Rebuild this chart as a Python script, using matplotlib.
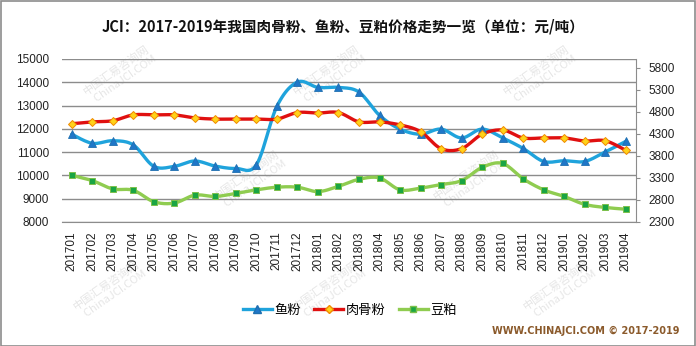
import numpy as np
import matplotlib
matplotlib.use("Agg")
import matplotlib.pyplot as plt
from matplotlib.lines import Line2D
from matplotlib.patches import Rectangle

plt.rcParams['font.family'] = ['Noto Sans CJK SC', 'DejaVu Sans']

months = ['201701', '201702', '201703', '201704', '201705', '201706', '201707',
          '201708', '201709', '201710', '201711', '201712', '201801', '201802',
          '201803', '201804', '201805', '201806', '201807', '201808', '201809',
          '201810', '201811', '201812', '201901', '201902', '201903', '201904']

fish_meal = [11770, 11380, 11490, 11310, 10390, 10390, 10620, 10400, 10300, 10460,
             12970, 14010, 13780, 13780, 13580, 12580, 11990, 11770, 11990, 11610,
             11990, 11610, 11160, 10600, 10630, 10600, 11010, 11460]

meat_bone_meal = [12220, 12300, 12350, 12600, 12600, 12600, 12470, 12420, 12420, 12420,
                  12420, 12700, 12680, 12700, 12300, 12300, 12170, 11880, 11150, 11150,
                  11770, 11950, 11610, 11610, 11610, 11480, 11490, 11080]

soybean_meal = [3360, 3240, 3050, 3020, 2760, 2730, 2910, 2880, 2950, 3030,
                3090, 3090, 2990, 3110, 3270, 3300, 3030, 3070, 3150, 3240,
                3540, 3630, 3280, 3030, 2880, 2700, 2630, 2590]

left_ticks = [8000, 9000, 10000, 11000, 12000, 13000, 14000, 15000]
right_ticks = [2300, 2800, 3300, 3800, 4300, 4800, 5300, 5800]

title = 'JCI：2017-2019年我国肉骨粉、鱼粉、豆粕价格走势一览（单位：元/吨）'
footer = 'WWW.CHINAJCI.COM © 2017-2019'


def smooth(xs, ys, n=12):
    """Catmull-Rom style smoothing (like Excel smoothed lines)."""
    xs = np.asarray(xs, float)
    ys = np.asarray(ys, float)
    px = np.concatenate([[xs[0]], xs, [xs[-1]]])
    py = np.concatenate([[ys[0]], ys, [ys[-1]]])
    ox, oy = [], []
    t = np.linspace(0, 1, n, endpoint=False)
    for i in range(1, len(px) - 2):
        p0x, p1x, p2x, p3x = px[i - 1], px[i], px[i + 1], px[i + 2]
        p0y, p1y, p2y, p3y = py[i - 1], py[i], py[i + 1], py[i + 2]
        c1x = p1x + (p2x - p0x) / 6
        c1y = p1y + (p2y - p0y) / 6
        c2x = p2x - (p3x - p1x) / 6
        c2y = p2y - (p3y - p1y) / 6
        bx = (1 - t) ** 3 * p1x + 3 * (1 - t) ** 2 * t * c1x + 3 * (1 - t) * t ** 2 * c2x + t ** 3 * p2x
        by = (1 - t) ** 3 * p1y + 3 * (1 - t) ** 2 * t * c1y + 3 * (1 - t) * t ** 2 * c2y + t ** 3 * p2y
        ox.extend(bx)
        oy.extend(by)
    ox.append(xs[-1])
    oy.append(ys[-1])
    return np.array(ox), np.array(oy)


W, H = 696, 346
fig = plt.figure(figsize=(W / 100, H / 100), dpi=100)
fig.patch.set_facecolor('white')

# watermarks (faint, behind the chart)
wm_pos = [(120, 75), (330, 75), (540, 75), (250, 180), (470, 180), (110, 290), (330, 290), (560, 290)]
for (wx, wy) in wm_pos:
    fig.text(wx / W, 1 - wy / H, '中国汇易咨询网\n  ChinaJCI.COM', rotation=35,
             fontsize=8, color='#e6e6e6', ha='center', va='center', zorder=-5)

ax = fig.add_axes([61.5 / W, 1 - 222 / H, (636 - 61.5) / W, (222 - 59) / H])
ax.patch.set_alpha(0)
ax2 = ax.twinx()
ax2.patch.set_alpha(0)

x = np.arange(len(months))
grid_c = '#8c8c8c'

for spine in ['left', 'top']:
    ax.spines[spine].set_visible(False)
    ax2.spines[spine].set_visible(False)
ax.spines['right'].set_visible(False)
ax.spines['bottom'].set_color(grid_c)
ax2.spines['bottom'].set_visible(False)
ax2.spines['right'].set_color(grid_c)

ax.set_xlim(-0.5, len(months) - 0.5)
ax.set_ylim(8000, 15000)
ax.set_yticks(left_ticks)
ax.set_yticklabels([str(v) for v in left_ticks], family='Liberation Sans', fontsize=8.5, color='#222222')
ax.tick_params(axis='y', length=0, pad=9)
ax.yaxis.grid(True, color=grid_c, lw=1)
ax.set_axisbelow(True)

ax.set_xticks(x)
ax.set_xticklabels(months, rotation=90, family='Liberation Sans', fontsize=8.5, color='#222222')
ax.tick_params(axis='x', length=0, pad=7)

ax2.set_ylim(2300, 6000)
ax2.set_yticks(right_ticks)
ax2.set_yticklabels([str(v) for v in right_ticks], family='Liberation Sans', fontsize=8.5, color='#222222')
ax2.tick_params(axis='y', length=3, pad=6, color=grid_c)

blue = '#1fa3dc'
red = '#e01010'
green = '#8fcc50'

sx, sy = smooth(x, fish_meal)
ax.plot(sx, sy, color=blue, lw=2.4, zorder=3, solid_capstyle='round')
ax.plot(x, fish_meal, ls='none', marker='^', ms=6, mfc='#1f77c8', mec='#1f6fb0', mew=0.6, zorder=4)

sx, sy = smooth(x, meat_bone_meal)
ax.plot(sx, sy, color=red, lw=2.4, zorder=3, solid_capstyle='round')
ax.plot(x, meat_bone_meal, ls='none', marker='D', ms=4.5, mfc='#ffd21a', mec='#f08a00', mew=0.7, zorder=4)

sx, sy = smooth(x, soybean_meal)
ax2.plot(sx, sy, color=green, lw=2.4, zorder=3, solid_capstyle='round')
ax2.plot(x, soybean_meal, ls='none', marker='s', ms=5, mfc='#1aa543', mec='#7cc04a', mew=0.7, zorder=4)

fig.text(343 / W, 1 - 27 / H, title, ha='center', va='center', fontsize=10.5, fontweight='bold', color='#111111')

handles = [
    Line2D([], [], color=blue, lw=2.4, marker='^', ms=6, mfc='#1f77c8', mec='#1f6fb0'),
    Line2D([], [], color=red, lw=2.4, marker='D', ms=4.5, mfc='#ffd21a', mec='#f08a00'),
    Line2D([], [], color=green, lw=2.4, marker='s', ms=5, mfc='#1aa543', mec='#7cc04a'),
]
fig.legend(handles, ['鱼粉', '肉骨粉', '豆粕'], loc='center', bbox_to_anchor=(350 / W, 1 - 310 / H),
           ncol=3, frameon=False, fontsize=9.5, handlelength=2.2, handletextpad=0.2,
           columnspacing=1.0, borderpad=0)

fig.text(680 / W, 1 - 331 / H, footer, ha='right', va='center', fontsize=7,
         fontweight='bold', family='DejaVu Sans', color='#8b5a2b')

fig.add_artist(Rectangle((0.5 / W, 0.5 / H), 1 - 1.5 / W, 1 - 1.5 / H, transform=fig.transFigure,
                         fill=False, edgecolor='#8c8c8c', lw=1.2))

fig.savefig('out.png', dpi=100)
